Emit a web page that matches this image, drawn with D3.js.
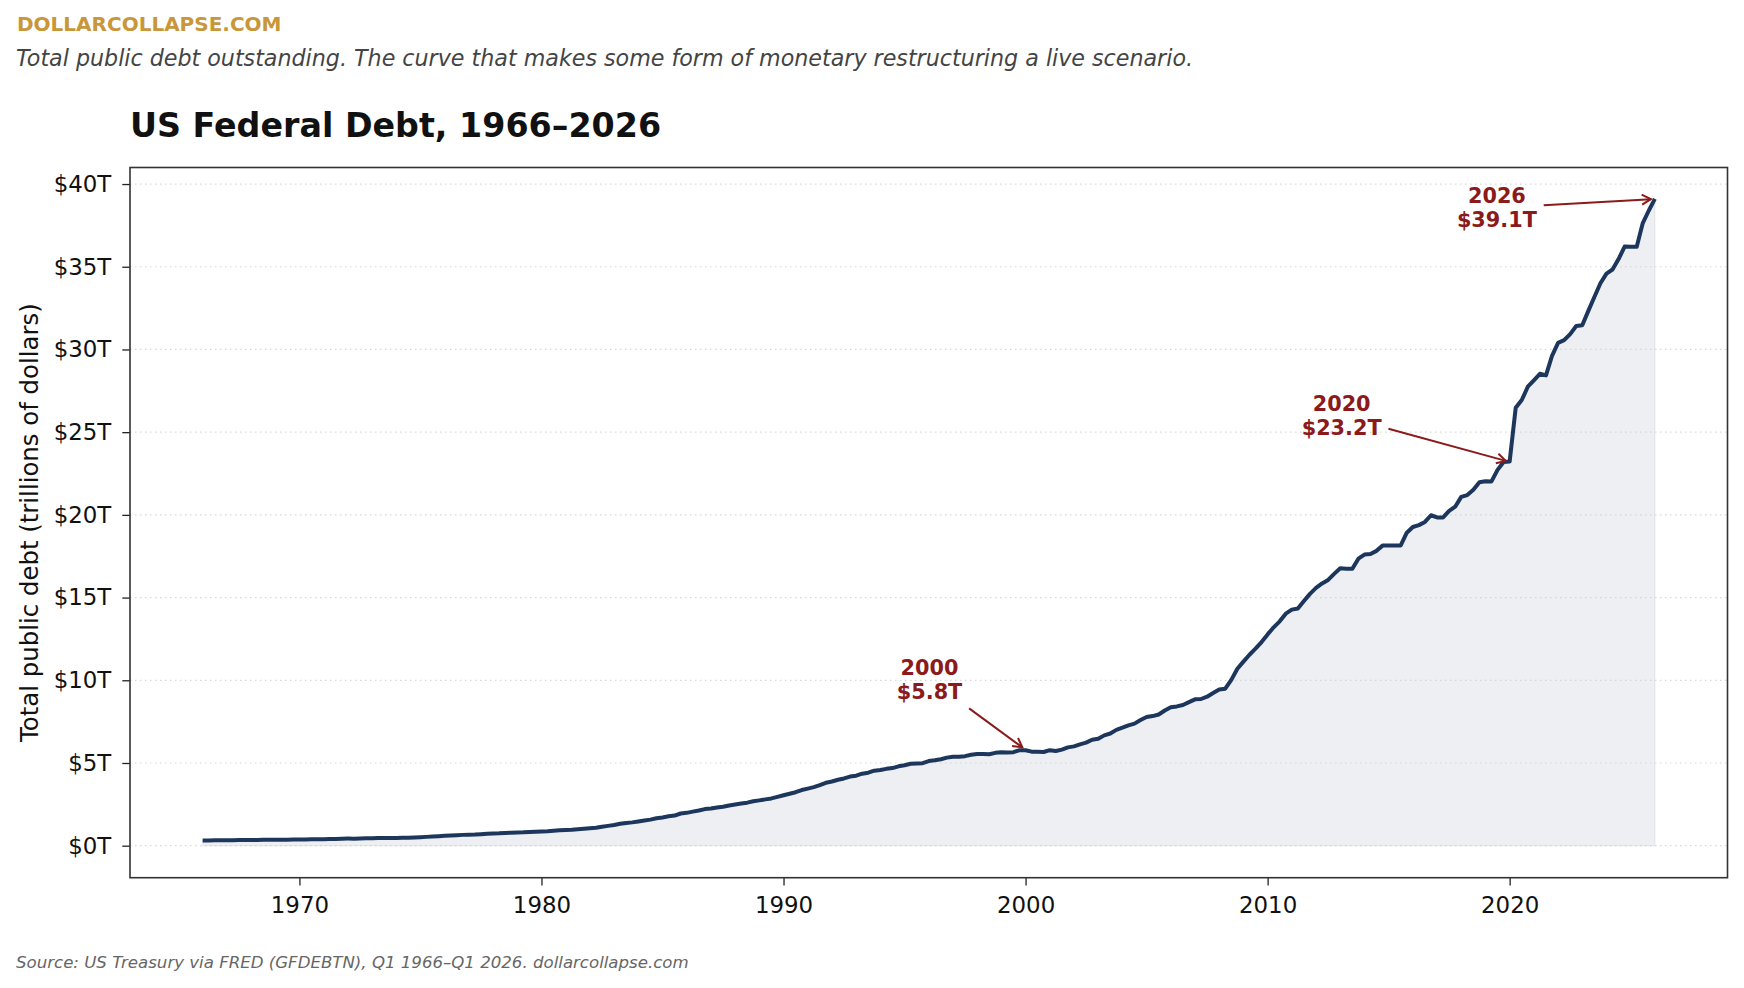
<!DOCTYPE html>
<html>
<head>
<meta charset="utf-8">
<script src="https://cdn.jsdelivr.net/npm/d3@7"></script>
<style>
  html, body { margin: 0; padding: 0; background: #ffffff; }
  svg { display: block; font-family: "DejaVu Sans", sans-serif; }
</style>
</head>
<body>
<svg id="chart" width="1744" height="988"></svg>
<script>
// ---------------- DATA ----------------
const startYear = 1966;
// Quarterly total public debt (trillions USD), Q1 1966 .. Q1 2026
const debtValues = [
  0.320, 0.320, 0.325, 0.329,
  0.330, 0.326, 0.340, 0.344,
  0.347, 0.348, 0.358, 0.360,
  0.360, 0.353, 0.365, 0.367,
  0.370, 0.371, 0.383, 0.389,
  0.390, 0.398, 0.412, 0.424,
  0.428, 0.427, 0.436, 0.449,
  0.455, 0.458, 0.466, 0.469,
  0.472, 0.474, 0.483, 0.492,
  0.509, 0.533, 0.554, 0.576,
  0.600, 0.620, 0.635, 0.654,
  0.669, 0.675, 0.699, 0.719,
  0.738, 0.749, 0.772, 0.789,
  0.800, 0.806, 0.827, 0.845,
  0.863, 0.878, 0.907, 0.930,
  0.950, 0.965, 0.998, 1.028,
  1.056, 1.079, 1.143, 1.197,
  1.249, 1.325, 1.378, 1.410,
  1.464, 1.517, 1.577, 1.663,
  1.710, 1.775, 1.823, 1.945,
  1.986, 2.060, 2.125, 2.214,
  2.250, 2.310, 2.350, 2.430,
  2.490, 2.547, 2.602, 2.684,
  2.740, 2.800, 2.857, 2.953,
  3.052, 3.144, 3.233, 3.364,
  3.450, 3.539, 3.665, 3.801,
  3.881, 3.984, 4.065, 4.177,
  4.230, 4.352, 4.411, 4.536,
  4.576, 4.646, 4.692, 4.800,
  4.864, 4.951, 4.974, 4.989,
  5.118, 5.161, 5.225, 5.323,
  5.381, 5.376, 5.413, 5.502,
  5.542, 5.548, 5.526, 5.614,
  5.651, 5.638, 5.656, 5.776,
  5.773, 5.686, 5.674, 5.662,
  5.773, 5.727, 5.807, 5.943,
  6.006, 6.126, 6.228, 6.405,
  6.460, 6.670, 6.783, 7.001,
  7.131, 7.274, 7.379, 7.596,
  7.777, 7.836, 7.933, 8.170,
  8.371, 8.420, 8.507, 8.680,
  8.849, 8.868, 9.008, 9.229,
  9.437, 9.492, 10.025, 10.700,
  11.127, 11.545, 11.910, 12.311,
  12.773, 13.202, 13.562, 14.025,
  14.270, 14.343, 14.790, 15.223,
  15.582, 15.856, 16.066, 16.433,
  16.772, 16.738, 16.738, 17.352,
  17.601, 17.632, 17.824, 18.141,
  18.152, 18.152, 18.153, 18.922,
  19.265, 19.381, 19.573, 19.977,
  19.846, 19.845, 20.245, 20.493,
  21.090, 21.195, 21.516, 21.974,
  22.028, 22.023, 22.719, 23.201,
  23.224, 26.477, 26.945, 27.748,
  28.133, 28.529, 28.429, 29.617,
  30.401, 30.568, 30.929, 31.420,
  31.458, 32.332, 33.167, 34.001,
  34.587, 34.832, 35.465, 36.218,
  36.214, 36.214, 37.638, 38.400,
  39.100
];
const xTickYears = [1970, 1980, 1990, 2000, 2010, 2020];
const yTickValues = [0, 5, 10, 15, 20, 25, 30, 35, 40];
const annotationYears = [2000, 2020, 2026];
const annotationValues = [5.8, 23.2, 39.1];

const brandText = "DOLLARCOLLAPSE.COM";
const subtitleText = "Total public debt outstanding. The curve that makes some form of monetary restructuring a live scenario.";
const titleText = "US Federal Debt, 1966\u20132026";
const yLabelText = "Total public debt (trillions of dollars)";
const sourceText = "Source: US Treasury via FRED (GFDEBTN), Q1 1966\u2013Q1 2026. dollarcollapse.com";

// ---------------- BUILD ----------------
const series = debtValues.map((v, i) => ({ t: startYear + i / 4, v }));

const svg = d3.select("#chart");
const plot = { left: 130, right: 1727.5, top: 167.5, bottom: 877.7 };

const tMin = series[0].t, tMax = series[series.length - 1].t;
const xPad = (tMax - tMin) * 0.05;
const x = d3.scaleLinear().domain([tMin - xPad, tMax + xPad]).range([plot.left, plot.right]);
const y = d3.scaleLinear().domain([-1.935, 41.0]).range([plot.bottom, plot.top]);

const red = "#8b1a1a";
const navy = "#1c365c";

// Header texts
svg.append("text").attr("x", 17).attr("y", 31).attr("fill", "#c9963a")
  .attr("font-weight", "bold").attr("font-size", 20).text(brandText);
svg.append("text").attr("x", 16).attr("y", 66).attr("fill", "#444444")
  .attr("font-style", "italic").attr("font-size", 22.2).text(subtitleText);
svg.append("text").attr("x", plot.left).attr("y", 137).attr("fill", "#111111")
  .attr("font-weight", "bold").attr("font-size", 33.3).text(titleText);

// clip
svg.append("clipPath").attr("id", "clip").append("rect")
  .attr("x", plot.left).attr("y", plot.top)
  .attr("width", plot.right - plot.left).attr("height", plot.bottom - plot.top);

const g = svg.append("g").attr("clip-path", "url(#clip)");

// area fill
const area = d3.area().x(d => x(d.t)).y0(y(0)).y1(d => y(d.v));
g.append("path").datum(series).attr("d", area)
  .attr("fill", "#1c365c").attr("fill-opacity", 0.08)
  .attr("stroke", "#1c365c").attr("stroke-opacity", 0.06).attr("stroke-width", 1.5);

// gridlines (drawn above fill)
g.append("g").selectAll("line").data(yTickValues).join("line")
  .attr("x1", plot.left).attr("x2", plot.right)
  .attr("y1", d => y(d)).attr("y2", d => y(d))
  .attr("stroke", "#cfcfcf").attr("stroke-width", 1.2)
  .attr("stroke-dasharray", "1.5,3.5").attr("opacity", 0.8);

// line
const line = d3.line().x(d => x(d.t)).y(d => y(d.v));
g.append("path").datum(series).attr("d", line)
  .attr("fill", "none").attr("stroke", navy).attr("stroke-width", 4)
  .attr("stroke-linejoin", "round").attr("stroke-linecap", "butt");

// axes
const xAxis = d3.axisBottom(x).tickValues(xTickYears).tickFormat(d3.format("d")).tickSize(7.7).tickPadding(11);
const yAxis = d3.axisLeft(y).tickValues(yTickValues).tickFormat(d => "$" + d + "T").tickSize(7.7).tickPadding(11);

const xg = svg.append("g").attr("transform", `translate(0,${plot.bottom})`).call(xAxis);
const yg = svg.append("g").attr("transform", `translate(${plot.left},0)`).call(yAxis);
[xg, yg].forEach(a => {
  a.select(".domain").remove();
  a.selectAll(".tick line").attr("stroke", "#222").attr("stroke-width", 1.3);
  a.selectAll(".tick text").attr("fill", "#111").attr("font-size", 22.9)
    .attr("font-family", "DejaVu Sans, sans-serif");
});

// frame
svg.append("rect").attr("x", plot.left).attr("y", plot.top)
  .attr("width", plot.right - plot.left).attr("height", plot.bottom - plot.top)
  .attr("fill", "none").attr("stroke", "#333333").attr("stroke-width", 1.6);

// y label
svg.append("text")
  .attr("transform", `translate(38,${(plot.top + plot.bottom) / 2}) rotate(-90)`)
  .attr("text-anchor", "middle").attr("font-size", 24.4).attr("fill", "#111")
  .text(yLabelText);

// source
svg.append("text").attr("x", 16).attr("y", 968).attr("fill", "#666666")
  .attr("font-style", "italic").attr("font-size", 16.6).text(sourceText);

// annotations
svg.append("defs").append("marker").attr("id", "arrowhead")
  .attr("viewBox", "-10 -6 12 12").attr("refX", 0).attr("refY", 0)
  .attr("markerWidth", 12).attr("markerHeight", 12).attr("markerUnits", "userSpaceOnUse")
  .attr("orient", "auto")
  .append("path").attr("d", "M-9,-5 L0,0 L-9,5").attr("fill", "none")
  .attr("stroke", red).attr("stroke-width", 2);

// text offsets (px) relative to annotated point
const annOffsets = [[-96, -71], [-168, -47], [-158, 8]];
annotationYears.forEach((yr, i) => {
  const px = x(yr), py = y(annotationValues[i]);
  const cx = px + annOffsets[i][0], cy = py + annOffsets[i][1];
  const t = svg.append("text").attr("text-anchor", "middle").attr("fill", red)
    .attr("font-weight", "bold").attr("font-size", 20.8);
  t.append("tspan").attr("x", cx).attr("y", cy - 4).text(String(yr));
  t.append("tspan").attr("x", cx).attr("y", cy + 20).text("$" + annotationValues[i].toFixed(1) + "T");
  const bb = t.node().getBBox();
  const bcx = bb.x + bb.width / 2, bcy = bb.y + bb.height / 2;
  const hw = bb.width / 2 + 6, hh = bb.height / 2 + 6;
  const dx = px - bcx, dy = py - bcy;
  const s = Math.min(hw / Math.abs(dx || 1e-6), hh / Math.abs(dy || 1e-6));
  const sx = bcx + dx * s, sy = bcy + dy * s;
  const len = Math.hypot(px - sx, py - sy);
  const ex = px - (px - sx) / len * 4, ey = py - (py - sy) / len * 4;
  svg.append("line").attr("x1", sx).attr("y1", sy).attr("x2", ex).attr("y2", ey)
    .attr("stroke", red).attr("stroke-width", 2).attr("marker-end", "url(#arrowhead)");
});
</script>
</body>
</html>
